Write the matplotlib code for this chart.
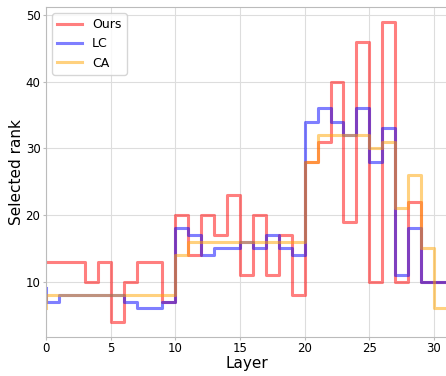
import numpy as np
import matplotlib.pyplot as plt

# selected rank per layer (first value = starting point, then one value per layer step)
layers = np.arange(32)
ours = [13, 13, 13, 13, 10, 13, 4, 10, 13, 13, 7, 20, 14, 20, 17, 23, 11, 20, 11, 17, 8,
        28, 31, 40, 19, 46, 10, 49, 10, 22, 10, 10]
lc = [9, 7, 8, 8, 8, 8, 8, 7, 6, 6, 7, 18, 17, 14, 15, 15, 16, 15, 17, 15, 14,
      34, 36, 34, 32, 36, 28, 33, 11, 18, 10, 10]
ca = [6, 8, 8, 8, 8, 8, 8, 8, 8, 8, 8, 14, 16, 16, 16, 16, 16, 16, 16, 16, 16,
      28, 32, 32, 32, 32, 30, 31, 21, 26, 15, 6]

fig = plt.figure(figsize=(4.46, 3.76), dpi=100)
ax = fig.add_axes([0.1031, 0.1045, 0.899, 0.8775])

ax.step(layers, ours, color='red', alpha=0.5, lw=2.2, label='Ours')
ax.step(layers, lc, color='blue', alpha=0.5, lw=2.2, label='LC')
ax.step(layers, ca, color='orange', alpha=0.5, lw=2.2, label='CA')

ax.set_xlim(0, 31)
ax.set_xticks([0, 5, 10, 15, 20, 25, 30])
ax.set_yticks([10, 20, 30, 40, 50])
ax.tick_params(labelsize=8.5, color='#bbbbbb', length=2.5, pad=1.5)
ax.grid(True, color='#dddddd', lw=0.8)
ax.set_axisbelow(True)
for s in ax.spines.values():
    s.set_color('#bbbbbb')

ax.set_xlabel('Layer', fontsize=11, labelpad=0.5)
ax.set_ylabel('Selected rank', fontsize=11, labelpad=1)
ax.legend(loc='upper left', fontsize=9)

plt.savefig('out.png', dpi=100)
